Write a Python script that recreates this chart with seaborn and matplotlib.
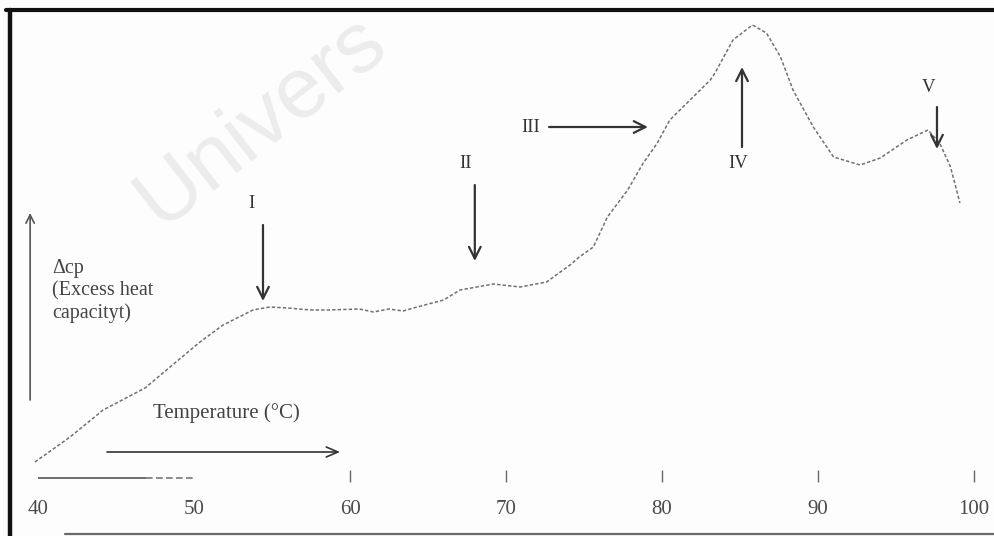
import numpy as np
import pandas as pd
import matplotlib
matplotlib.use("Agg")
import matplotlib.pyplot as plt
from matplotlib.lines import Line2D
import seaborn as sns

# ---- data (arbitrary units) ----
temperature = [39.8, 42.05, 44.17, 46.86, 48.46, 50.38, 51.86, 53.78, 54.87, 56.0,
               57.5, 58.5, 60.6, 61.5, 62.5, 63.4, 64.3, 66.0, 67.05, 69.2,
               70.9, 72.6, 74.1, 74.7, 75.6, 76.5, 77.8, 78.8, 79.7, 80.5,
               81.8, 83.1, 83.4, 84.55, 85.8, 86.7, 87.6, 88.4, 89.7, 91.0,
               92.7, 94.0, 95.7, 97.05, 97.8, 98.5, 99.1]
excess_cp = [1.8, 4.3, 7.0, 9.2, 11.3, 13.8, 15.5, 17.0, 17.3, 17.2,
             17.0, 17.0, 17.1, 16.8, 17.1, 16.9, 17.3, 18.0, 19.0, 19.6,
             19.3, 19.8, 21.5, 22.3, 23.3, 26.3, 29.0, 31.7, 33.7, 36.0,
             38.0, 40.0, 40.7, 44.0, 45.5, 44.7, 42.3, 39.0, 35.3, 32.3,
             31.5, 32.2, 34.0, 35.0, 33.7, 31.3, 27.7]
x_ticks = [40, 50, 60, 70, 80, 90, 100]
x_tick_labels = ["40", "50", "60", "70", "80", "90", "100"]

# transition markers: label, text position, arrow tail, arrow head
transitions = [
    ("I",   (53.7, 27.6), (54.42, 25.5), (54.42, 17.9)),
    ("II",  (67.4, 31.6), (68.0, 29.5), (68.0, 21.9)),
    ("III", (71.6, 35.3), (72.76, 35.3), (79.1, 35.3)),
    ("IV",  (84.9, 31.6), (85.13, 33.3), (85.13, 41.3)),
    ("V",   (97.1, 39.3), (97.63, 37.3), (97.63, 33.1)),
]

df = pd.DataFrame({"T": temperature, "cp": excess_cp})

sns.set_theme(style="white")
plt.rcParams["font.family"] = ["Liberation Serif", "DejaVu Serif"]

W, H = 995, 536
fig = plt.figure(figsize=(W / 100, H / 100), dpi=100)
fig.patch.set_facecolor("#fdfdfd")
ax = fig.add_axes([10 / W, 1 - 482 / H, 1 - 10 / W, 472 / H])
ax.set_facecolor("none")

# watermark (visible part)
fig.text(160 / W, 1 - 228 / H, "Univers", fontsize=62, rotation=38,
         rotation_mode="anchor", ha="left", va="baseline",
         color="#ececec", family="Liberation Sans", zorder=0)

sns.lineplot(data=df, x="T", y="cp", ax=ax, color="#707070", linewidth=1.1,
             zorder=3)
ax.lines[0].set_linestyle((0, (2.2, 1.4)))

ax.set_xlim(38.2, 101.35)
ax.set_ylim(-0.2, 47.0)
ax.set_xlabel("")
ax.set_ylabel("")
ax.set_yticks([])
ax.set_xticks(x_ticks)
ax.set_xticklabels(x_tick_labels)
ax.tick_params(axis="x", direction="in", length=9, width=1.0, color="#666666",
               pad=13, labelsize=15, labelcolor="#4a4a4a", bottom=True)
for t in ax.xaxis.get_major_ticks()[:2]:
    t.tick1line.set_visible(False)
for s in ax.spines.values():
    s.set_visible(False)

# partial baseline
ax.plot([40, 46.9], [0.2, 0.2], color="#555555", lw=1.2, solid_capstyle="butt")
ax.plot([46.9, 50.0], [0.2, 0.2], color="#777777", lw=1.2, ls=(0, (4, 2)))

# frame lines
fig.add_artist(Line2D([10 / W, 10 / W], [0, 1 - 10 / H], color="#111111",
                      lw=3.2, transform=fig.transFigure))
fig.add_artist(Line2D([6 / W, 1], [1 - 10 / H, 1 - 10 / H], color="#111111",
                      lw=3.0, transform=fig.transFigure))
fig.add_artist(Line2D([65 / W, 1], [1 - 534 / H, 1 - 534 / H], color="#6a6a6a",
                      lw=1.6, transform=fig.transFigure))

arrow_kw = dict(arrowstyle="->,head_length=0.7,head_width=0.35",
                color="#333333", lw=1.6, shrinkA=0, shrinkB=0)

# axis-direction arrows
ax.annotate("", xy=(39.49, 26.7), xytext=(39.49, 8.0),
            arrowprops=dict(arrowstyle="->,head_length=0.5,head_width=0.25",
                            color="#555555", lw=1.2, shrinkA=0, shrinkB=0))
ax.text(40.9, 18.9, "Δcp\n(Excess heat\ncapacityt)", fontsize=14.5,
        color="#444444", va="center", ha="left", linespacing=1.22)
ax.annotate("", xy=(59.36, 2.8), xytext=(44.42, 2.8),
            arrowprops=dict(arrowstyle="->,head_length=0.7,head_width=0.3",
                            color="#333333", lw=1.2, shrinkA=0, shrinkB=0))
ax.text(47.4, 6.7, "Temperature (°C)", fontsize=15, color="#444444",
        va="center", ha="left")

for label, tpos, tail, head in transitions:
    ax.annotate("", xy=head, xytext=tail, arrowprops=arrow_kw)
    ax.text(tpos[0], tpos[1], label, fontsize=13.5, color="#333333",
            ha="center", va="center")

fig.savefig("out.png", dpi=100, facecolor=fig.get_facecolor())
